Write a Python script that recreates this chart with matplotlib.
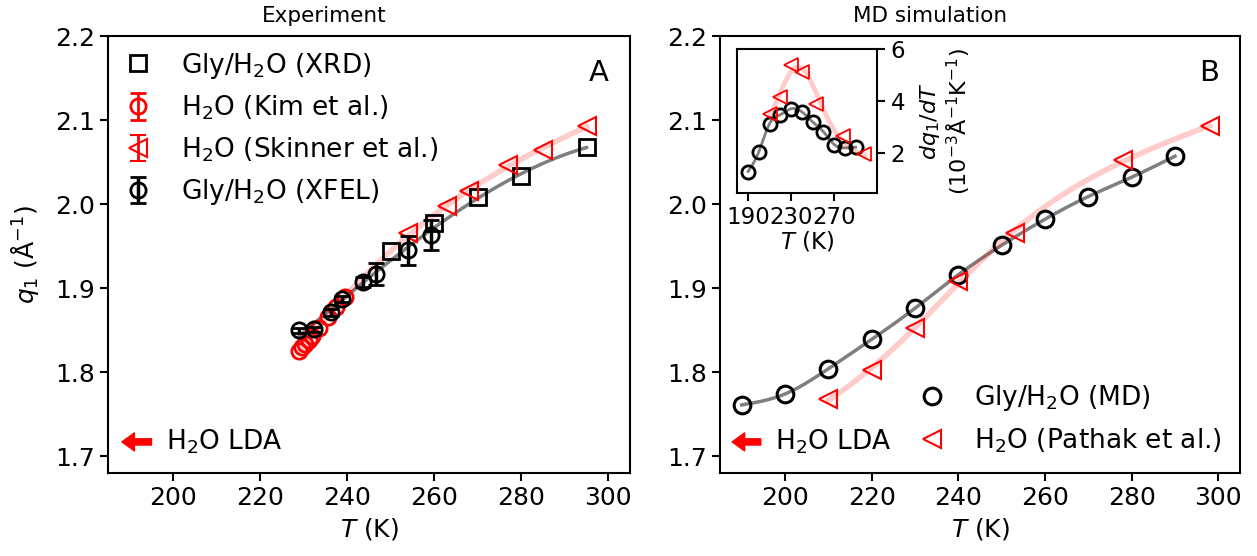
import numpy as np
import matplotlib
matplotlib.use("Agg")
import matplotlib.pyplot as plt

plt.rcParams['font.family'] = ['DejaVu Sans']
plt.rcParams['mathtext.fontset'] = 'dejavusans'

# ---- Experiment (panel A) ----
xrd_T = [250, 260, 270, 280, 295]
xrd_q = [1.944, 1.977, 2.008, 2.034, 2.068]

kim_T = [229.0, 229.6, 230.3, 231.1, 232.0, 233.5, 235.5, 237.5, 239.5]
kim_q = [1.825, 1.830, 1.834, 1.838, 1.843, 1.853, 1.866, 1.878, 1.889]

skinner_T = [254, 263, 268, 277, 285, 295]
skinner_q = [1.965, 1.998, 2.016, 2.047, 2.064, 2.093]

xfel_T = [229.0, 232.4, 236.3, 238.9, 243.7, 246.6, 253.9, 259.3]
xfel_q = [1.850, 1.851, 1.871, 1.887, 1.907, 1.917, 1.945, 1.963]
xfel_err = [0.003, 0.003, 0.004, 0.004, 0.006, 0.013, 0.017, 0.018]

# ---- MD simulation (panel B) ----
md_T = [190, 200, 210, 220, 230, 240, 250, 260, 270, 280, 290]
md_q = [1.761, 1.774, 1.804, 1.839, 1.876, 1.916, 1.951, 1.982, 2.009, 2.032, 2.057]

pathak_T = [210, 220, 230, 240, 253, 278, 298]
pathak_q = [1.768, 1.803, 1.852, 1.909, 1.966, 2.052, 2.093]

# slopes dq1/dT in 1e-3 A^-1 K^-1 (inset)
md_slope = [1.29, 2.05, 3.14, 3.48, 3.71, 3.59, 3.20, 2.82, 2.33, 2.20, 2.23]
pathak_slope = [3.50, 4.18, 5.40, 5.14, 3.90, 2.67, 1.97]

lda_q = 1.717


def spline(x, y, n=300):
    # natural cubic spline through the points
    x = np.asarray(x, float)
    y = np.asarray(y, float)
    h = np.diff(x)
    k = len(x)
    A = np.zeros((k, k))
    b = np.zeros(k)
    A[0, 0] = A[-1, -1] = 1
    for i in range(1, k - 1):
        A[i, i - 1] = h[i - 1]
        A[i, i] = 2 * (h[i - 1] + h[i])
        A[i, i + 1] = h[i]
        b[i] = 3 * ((y[i + 1] - y[i]) / h[i] - (y[i] - y[i - 1]) / h[i - 1])
    c = np.linalg.solve(A, b)
    xs = np.linspace(x[0], x[-1], n)
    j = np.clip(np.searchsorted(x, xs) - 1, 0, k - 2)
    dx = xs - x[j]
    bb = (y[j + 1] - y[j]) / h[j] - h[j] * (2 * c[j] + c[j + 1]) / 3
    d = (c[j + 1] - c[j]) / (3 * h[j])
    return xs, y[j] + bb * dx + c[j] * dx ** 2 + d * dx ** 3


def polyline(x, y, deg, n=300):
    p = np.polyfit(x, y, deg)
    xs = np.linspace(min(x), max(x), n)
    return xs, np.polyval(p, xs)


def tanh_fit(x, y):
    # q = a + b*T + c*tanh((T - T0)/w), grid over T0, w
    x = np.asarray(x, float)
    y = np.asarray(y, float)
    best = None
    for T0 in np.arange(220, 250, 0.5):
        for w in np.arange(24, 40, 0.5):
            X = np.column_stack([np.ones_like(x), x, np.tanh((x - T0) / w)])
            coef = np.linalg.lstsq(X, y, rcond=None)[0]
            r = np.sum((X @ coef - y) ** 2)
            if best is None or r < best[0]:
                best = (r, T0, w, coef)
    return best[1:]


fig = plt.figure(figsize=(12.57, 5.56), dpi=100)
W, H = 1257, 556
axA = fig.add_axes([108 / W, 83 / H, 522 / W, 437 / H])
axB = fig.add_axes([720 / W, 83 / H, 520 / W, 437 / H])

ms = 11
mew = 2

# panel A fits
blk_T = np.array(xfel_T + xrd_T)
blk_q = np.array(xfel_q + xrd_q)
o = np.argsort(blk_T)
xs, ys = polyline(blk_T[o], blk_q[o], 3)
axA.plot(xs, ys, color='black', alpha=0.5, lw=2.5, zorder=1)
xs, ys = polyline(kim_T + skinner_T, kim_q + skinner_q, 3)
axA.plot(xs, ys, color='red', alpha=0.2, lw=4, zorder=1)

h_xrd, = axA.plot(xrd_T, xrd_q, 's', ms=ms, mfc='none', mec='black', mew=mew)
axA.plot(kim_T, kim_q, 'o', ms=ms, mfc='none', mec='red', mew=mew)
axA.plot(skinner_T, skinner_q, '<', ms=12.5, mfc='none', mec='red', mew=1.5)
h_xf = axA.errorbar(xfel_T, xfel_q, yerr=xfel_err, fmt='o', ms=ms, mfc='none',
                    mec='black', ecolor='black', mew=mew, elinewidth=2.5,
                    capsize=6, capthick=2.5)
# legend entries for the water data with their error bar style
h_kim = axA.errorbar([np.nan], [np.nan], yerr=[0.01], fmt='o', ms=ms,
                     mfc='none', mec='red', ecolor='red', mew=mew,
                     elinewidth=2, capsize=6, capthick=2)
h_sk = axA.errorbar([np.nan], [np.nan], yerr=[0.01], fmt='<', ms=12.5,
                    mfc='none', mec='red', ecolor='red', mew=1.5,
                    elinewidth=2, capsize=6, capthick=2)
axA.legend([h_xrd, h_kim, h_sk, h_xf],
           ['Gly/H$_2$O (XRD)', 'H$_2$O (Kim et al.)',
            'H$_2$O (Skinner et al.)', 'Gly/H$_2$O (XFEL)'],
           loc='upper left', frameon=False, fontsize=19, labelspacing=0.5,
           handlelength=1.2, handletextpad=1.0, borderaxespad=0.25,
           borderpad=0.3)

# panel B fits
xs, ys = spline(md_T, md_q)
axB.plot(xs, ys, color='black', alpha=0.5, lw=2.5, zorder=1)
T0, w, (a, b, c) = tanh_fit(pathak_T, pathak_q)
xs = np.linspace(pathak_T[0], pathak_T[-1], 300)
axB.plot(xs, a + b * xs + c * np.tanh((xs - T0) / w), color='red', alpha=0.2,
         lw=4, zorder=1)
axB.plot(md_T, md_q, 'o', ms=12, mfc='none', mec='black', mew=2.2,
         label='Gly/H$_2$O (MD)')
axB.plot(pathak_T, pathak_q, '<', ms=13, mfc='none', mec='red', mew=1.5,
         label='H$_2$O (Pathak et al.)')
axB.legend(loc='lower right', frameon=False, fontsize=19, labelspacing=0.5,
           handletextpad=0.6, borderaxespad=0.3)

for ax, tip, tail, tx, letter in [(axA, 188.2, 195.0, 198.4, 'A'),
                                  (axB, 187.8, 194.4, 197.8, 'B')]:
    ax.set_xlim(185, 305)
    ax.set_ylim(1.68, 2.2)
    ax.set_xticks([200, 220, 240, 260, 280, 300])
    ax.set_yticks([1.7, 1.8, 1.9, 2.0, 2.1, 2.2])
    ax.tick_params(labelsize=18, width=1.5, length=6)
    for s in ax.spines.values():
        s.set_linewidth(1.5)
    ax.set_xlabel('$T$ (K)', fontsize=18, labelpad=4)
    ax.annotate('', xy=(tip, lda_q), xytext=(tail, lda_q),
                arrowprops=dict(color='red', width=4.5, headwidth=13,
                                headlength=9, shrink=0))
    ax.text(tx, lda_q, 'H$_2$O LDA', fontsize=19, va='center', ha='left')
    ax.text(0.94, 0.915, letter, transform=ax.transAxes, fontsize=21,
            ha='center', va='center')

axA.set_ylabel('$q_1$ (Å$^{-1}$)', fontsize=18, labelpad=10)
fig.text(324 / W, 1 - 16 / H, 'Experiment', fontsize=15.5, ha='center',
         va='center')
fig.text(930 / W, 1 - 16 / H, 'MD simulation', fontsize=15.5, ha='center',
         va='center')

# inset: slopes
axI = fig.add_axes([737.3 / W, (H - 193.3) / H, 140 / W, 144 / H])
xs, ys = spline(md_T, md_slope)
axI.plot(xs, ys, color='black', alpha=0.5, lw=2, zorder=1)
xs = np.linspace(pathak_T[0], pathak_T[-1], 300)
slope = b + c / w / np.cosh((xs - T0) / w) ** 2
axI.plot(xs, 1000 * slope, color='red', alpha=0.2, lw=3.5, zorder=1)
axI.plot(md_T, md_slope, 'o', ms=9.5, mfc='none', mec='black', mew=2)
axI.plot(pathak_T, pathak_slope, '<', ms=10.5, mfc='none', mec='red', mew=1.3)
axI.set_xlim(180, 310)
axI.set_ylim(0.45, 6)
axI.set_xticks([190, 230, 270])
axI.set_yticks([2, 4, 6])
axI.yaxis.tick_right()
axI.yaxis.set_label_position('right')
axI.tick_params(labelsize=16.5, width=1.5, length=6)
for s in axI.spines.values():
    s.set_linewidth(1.5)
axI.set_xlabel('$T$ (K)', fontsize=16.5, labelpad=0)
axI.set_ylabel('$dq_1/dT$\n(10$^{-3}$Å$^{-1}$K$^{-1}$)', fontsize=16,
               labelpad=9, linespacing=1.1)

fig.savefig('out.png', dpi=100)
